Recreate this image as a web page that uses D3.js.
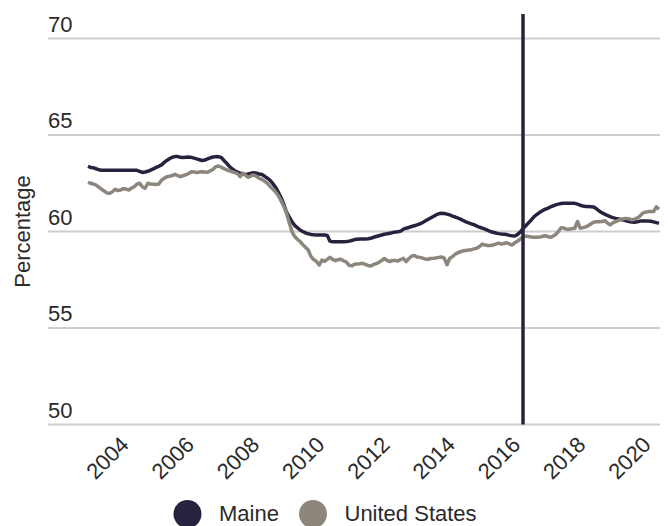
<!DOCTYPE html>
<html>
<head>
<meta charset="utf-8">
<script src="https://cdn.jsdelivr.net/npm/d3@7"></script>
<style>
  html, body { margin: 0; padding: 0; background: #ffffff; }
  svg { display: block; }
  text { font-family: "Liberation Sans", Arial, sans-serif; fill: #2a2a2a; }
</style>
</head>
<body>
<svg id="chart" width="670" height="526"></svg>
<script>
// Monthly employment-to-population ratio, November 2002 through May 2020
const firstMonth = "2002-11";

const maine = [
  63.38, 63.32,
  63.30, 63.25, 63.20, 63.17, 63.17, 63.17, 63.17, 63.17, 63.17, 63.17, 63.17, 63.17,
  63.17, 63.17, 63.17, 63.17, 63.17, 63.12, 63.06, 63.08, 63.12, 63.18, 63.24, 63.32,
  63.38, 63.45, 63.57, 63.68, 63.77, 63.85, 63.88, 63.88, 63.85, 63.84, 63.85, 63.86,
  63.84, 63.80, 63.76, 63.72, 63.68, 63.70, 63.76, 63.82, 63.86, 63.88, 63.87, 63.84,
  63.68, 63.53, 63.38, 63.25, 63.15, 63.07, 63.02, 62.98, 62.96, 62.98, 63.02, 63.05,
  63.02, 62.98, 62.95, 62.86, 62.76, 62.65, 62.48, 62.28, 62.03, 61.75, 61.40, 61.00,
  60.75, 60.50, 60.32, 60.20, 60.08, 60.00, 59.93, 59.88, 59.85, 59.83, 59.82, 59.82,
  59.82, 59.82, 59.80, 59.50, 59.47, 59.47, 59.47, 59.47, 59.47, 59.48, 59.50, 59.53,
  59.58, 59.60, 59.61, 59.61, 59.61, 59.62, 59.65, 59.70, 59.74, 59.78, 59.82, 59.86,
  59.88, 59.91, 59.94, 59.97, 59.99, 60.02, 60.12, 60.17, 60.21, 60.26, 60.30, 60.34,
  60.40, 60.46, 60.54, 60.62, 60.70, 60.78, 60.86, 60.92, 60.94, 60.93, 60.90, 60.86,
  60.80, 60.75, 60.70, 60.64, 60.57, 60.50, 60.45, 60.40, 60.35, 60.28, 60.22, 60.17,
  60.12, 60.06, 60.00, 59.96, 59.92, 59.89, 59.87, 59.86, 59.84, 59.80, 59.78, 59.77,
  59.85, 59.98, 60.15, 60.30, 60.45, 60.60, 60.76, 60.88, 60.98, 61.07, 61.15, 61.20,
  61.27, 61.33, 61.38, 61.42, 61.45, 61.46, 61.46, 61.46, 61.46, 61.46, 61.42, 61.36,
  61.32, 61.30, 61.29, 61.28, 61.27, 61.18, 61.06, 60.97, 60.90, 60.83, 60.77, 60.72,
  60.68, 60.65, 60.62, 60.59, 60.56, 60.52, 60.49, 60.48, 60.50, 60.54, 60.54, 60.54,
  60.54, 60.53, 60.50, 60.46, 60.42
];

const unitedStates = [
  62.55, 62.50,
  62.45, 62.40, 62.30, 62.19, 62.10, 62.00, 61.98, 62.06, 62.19, 62.12, 62.15, 62.22,
  62.20, 62.15, 62.25, 62.32, 62.45, 62.50, 62.32, 62.24, 62.50, 62.46, 62.45, 62.44,
  62.46, 62.66, 62.75, 62.84, 62.86, 62.90, 62.96, 62.90, 62.84, 62.90, 62.94, 63.00,
  63.10, 63.08, 63.05, 63.08, 63.10, 63.08, 63.07, 63.15, 63.22, 63.36, 63.39, 63.33,
  63.26, 63.19, 63.14, 63.10, 63.05, 63.00, 62.84, 63.02, 62.90, 62.81, 62.88, 62.93,
  62.85, 62.75, 62.70, 62.60, 62.50, 62.32, 62.20, 62.05, 61.85, 61.60, 61.30, 60.95,
  60.45, 59.98, 59.75, 59.60, 59.48, 59.32, 59.18, 59.04, 58.70, 58.55, 58.45, 58.26,
  58.52, 58.45, 58.55, 58.66, 58.55, 58.49, 58.54, 58.56, 58.48, 58.42, 58.25, 58.22,
  58.30, 58.32, 58.33, 58.35, 58.30, 58.24, 58.21, 58.28, 58.34, 58.40, 58.50, 58.60,
  58.50, 58.44, 58.50, 58.50, 58.47, 58.55, 58.61, 58.44, 58.60, 58.72, 58.76, 58.68,
  58.66, 58.62, 58.58, 58.56, 58.60, 58.61, 58.63, 58.66, 58.68, 58.62, 58.28, 58.60,
  58.70, 58.82, 58.90, 58.95, 59.00, 59.02, 59.04, 59.06, 59.10, 59.14, 59.22, 59.35,
  59.30, 59.28, 59.27, 59.30, 59.35, 59.40, 59.35, 59.38, 59.42, 59.35, 59.30, 59.42,
  59.50, 59.62, 59.72, 59.76, 59.74, 59.72, 59.70, 59.70, 59.71, 59.74, 59.78, 59.74,
  59.70, 59.76, 59.84, 60.00, 60.20, 60.18, 60.12, 60.12, 60.15, 60.17, 60.52, 60.17,
  60.20, 60.24, 60.30, 60.40, 60.48, 60.50, 60.51, 60.52, 60.56, 60.45, 60.34, 60.45,
  60.51, 60.58, 60.63, 60.66, 60.68, 60.65, 60.60, 60.64, 60.70, 60.80, 60.95, 61.00,
  61.03, 61.03, 61.03, 61.28, 61.15
];

const seriesNames = ["Maine", "United States"];
const seriesColors = ["#28223f", "#8c867c"];
const yTicks = [50, 55, 60, 65, 70];
const xTickYears = [2004, 2006, 2008, 2010, 2012, 2014, 2016, 2018, 2020];
const markerMonth = "2016-03";
const yTitle = "Percentage";

const parseMonth = d3.timeParse("%Y-%m");
const start = parseMonth(firstMonth);
const months = maine.map((_, i) => d3.timeMonth.offset(start, i));

const svg = d3.select("#chart");

const x = d3.scaleTime()
  .domain([months[0], months[months.length - 1]])
  .range([88, 659]);

const y = d3.scaleLinear()
  .domain([50, 70])
  .range([424.5, 38.5]);

// Horizontal gridlines with their values written above the line
const grid = svg.append("g");
grid.selectAll("line")
  .data(yTicks)
  .join("line")
  .attr("x1", 48)
  .attr("x2", 660)
  .attr("y1", d => y(d))
  .attr("y2", d => y(d))
  .attr("stroke", "#cdcdcd")
  .attr("stroke-width", 2);
grid.selectAll("text")
  .data(yTicks)
  .join("text")
  .attr("x", 48)
  .attr("y", d => y(d) - 7)
  .attr("font-size", 22)
  .text(d => d);

// Y axis title
svg.append("text")
  .attr("transform", `translate(30, ${(y(50) + y(70)) / 2}) rotate(-90)`)
  .attr("text-anchor", "middle")
  .attr("font-size", 22)
  .text(yTitle);

// Year axis with slanted labels
const xAxis = d3.axisBottom(x)
  .tickValues(xTickYears.map(yr => new Date(yr, 0, 1)))
  .tickFormat(d3.timeFormat("%Y"))
  .tickSize(0);

const axisG = svg.append("g")
  .attr("transform", `translate(0, ${y(50)})`)
  .call(xAxis);
axisG.select(".domain").remove();
axisG.selectAll("text")
  .attr("x", null)
  .attr("y", null)
  .attr("dy", null)
  .attr("text-anchor", "end")
  .attr("font-size", 22)
  .attr("font-family", '"Liberation Sans", Arial, sans-serif')
  .attr("fill", "#2a2a2a")
  .attr("transform", "translate(3.5, 21.5) rotate(-45)");

// Series lines
const line = d3.line()
  .x((d, i) => x(months[i]))
  .y(d => y(d));

[maine, unitedStates].forEach((values, k) => {
  svg.append("path")
    .datum(values)
    .attr("fill", "none")
    .attr("stroke", seriesColors[k])
    .attr("stroke-width", 3.5)
    .attr("stroke-linejoin", "round")
    .attr("d", line);
});

// Vertical reference line
const mx = x(parseMonth(markerMonth));
svg.append("line")
  .attr("x1", mx)
  .attr("x2", mx)
  .attr("y1", 14)
  .attr("y2", y(50))
  .attr("stroke", seriesColors[0])
  .attr("stroke-width", 3.5);

// Legend
const legendX = [187.5, 313];
const legend = svg.append("g");
seriesNames.forEach((name, k) => {
  legend.append("circle")
    .attr("cx", legendX[k])
    .attr("cy", 514)
    .attr("r", 14)
    .attr("fill", seriesColors[k]);
  legend.append("text")
    .attr("x", legendX[k] + 31.5)
    .attr("y", 521)
    .attr("font-size", 22)
    .text(name);
});
</script>
</body>
</html>
